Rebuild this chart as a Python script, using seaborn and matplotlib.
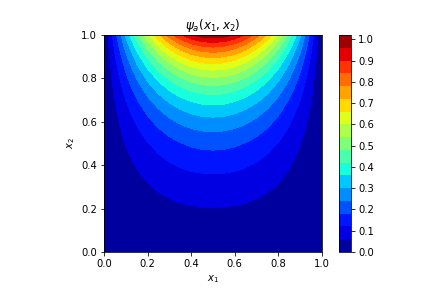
import numpy as np
import matplotlib
matplotlib.use('Agg')
import matplotlib.pyplot as plt
import seaborn as sns

# grid positions
x1 = [0.0, 0.05, 0.1, 0.15, 0.2, 0.25, 0.3, 0.35, 0.4, 0.45, 0.5,
      0.55, 0.6, 0.65, 0.7, 0.75, 0.8, 0.85, 0.9, 0.95, 1.0]
x2 = [0.0, 0.05, 0.1, 0.15, 0.2, 0.25, 0.3, 0.35, 0.4, 0.45, 0.5,
      0.55, 0.6, 0.65, 0.7, 0.75, 0.8, 0.85, 0.9, 0.95, 1.0]

# value read along the top edge, left to right
top_edge = [0.0, 0.156, 0.309, 0.454, 0.588, 0.707, 0.809, 0.891, 0.951, 0.988, 1.0,
            0.988, 0.951, 0.891, 0.809, 0.707, 0.588, 0.454, 0.309, 0.156, 0.0]
# value read up the middle line x1 = 0.5, bottom to top
mid_line = [0.0, 0.014, 0.028, 0.042, 0.058, 0.075, 0.094, 0.115, 0.14, 0.168, 0.199,
            0.236, 0.279, 0.328, 0.386, 0.453, 0.531, 0.622, 0.729, 0.854, 1.0]

levels = [0.0, 0.06, 0.12, 0.18, 0.24, 0.30, 0.36, 0.42, 0.48, 0.54,
          0.60, 0.66, 0.72, 0.78, 0.84, 0.90, 0.96, 1.02]
axis_ticks = [0.0, 0.2, 0.4, 0.6, 0.8, 1.0]
bar_ticks = [0.0, 0.1, 0.2, 0.3, 0.4, 0.5, 0.6, 0.7, 0.8, 0.9, 1.0]

psi = np.outer(mid_line, top_edge)

# seaborn ticks style, but with the plain black matplotlib text and spines
sns.set_style('ticks', {'axes.edgecolor': 'black', 'text.color': 'black',
                        'axes.labelcolor': 'black', 'xtick.color': 'black',
                        'ytick.color': 'black'})
plt.rcParams['font.family'] = ['DejaVu Sans']

fig = plt.figure(figsize=(6, 4), dpi=72)
ax = fig.add_axes([104 / 432, 36 / 288, 218 / 432, 217 / 288])
cax = fig.add_axes([339 / 432, 36 / 288, 12 / 432, 217 / 288])

cs = ax.contourf(x1, x2, psi, levels=levels, cmap='jet')
ax.set_title(r'$\psi_a(x_1, x_2)$')
ax.set_xlabel(r'$x_1$')
ax.set_ylabel(r'$x_2$')
ax.set_xticks(axis_ticks)
ax.set_yticks(axis_ticks)

cbar = fig.colorbar(cs, cax=cax)
cbar.set_ticks(bar_ticks)

fig.savefig('out.png', dpi=72)
